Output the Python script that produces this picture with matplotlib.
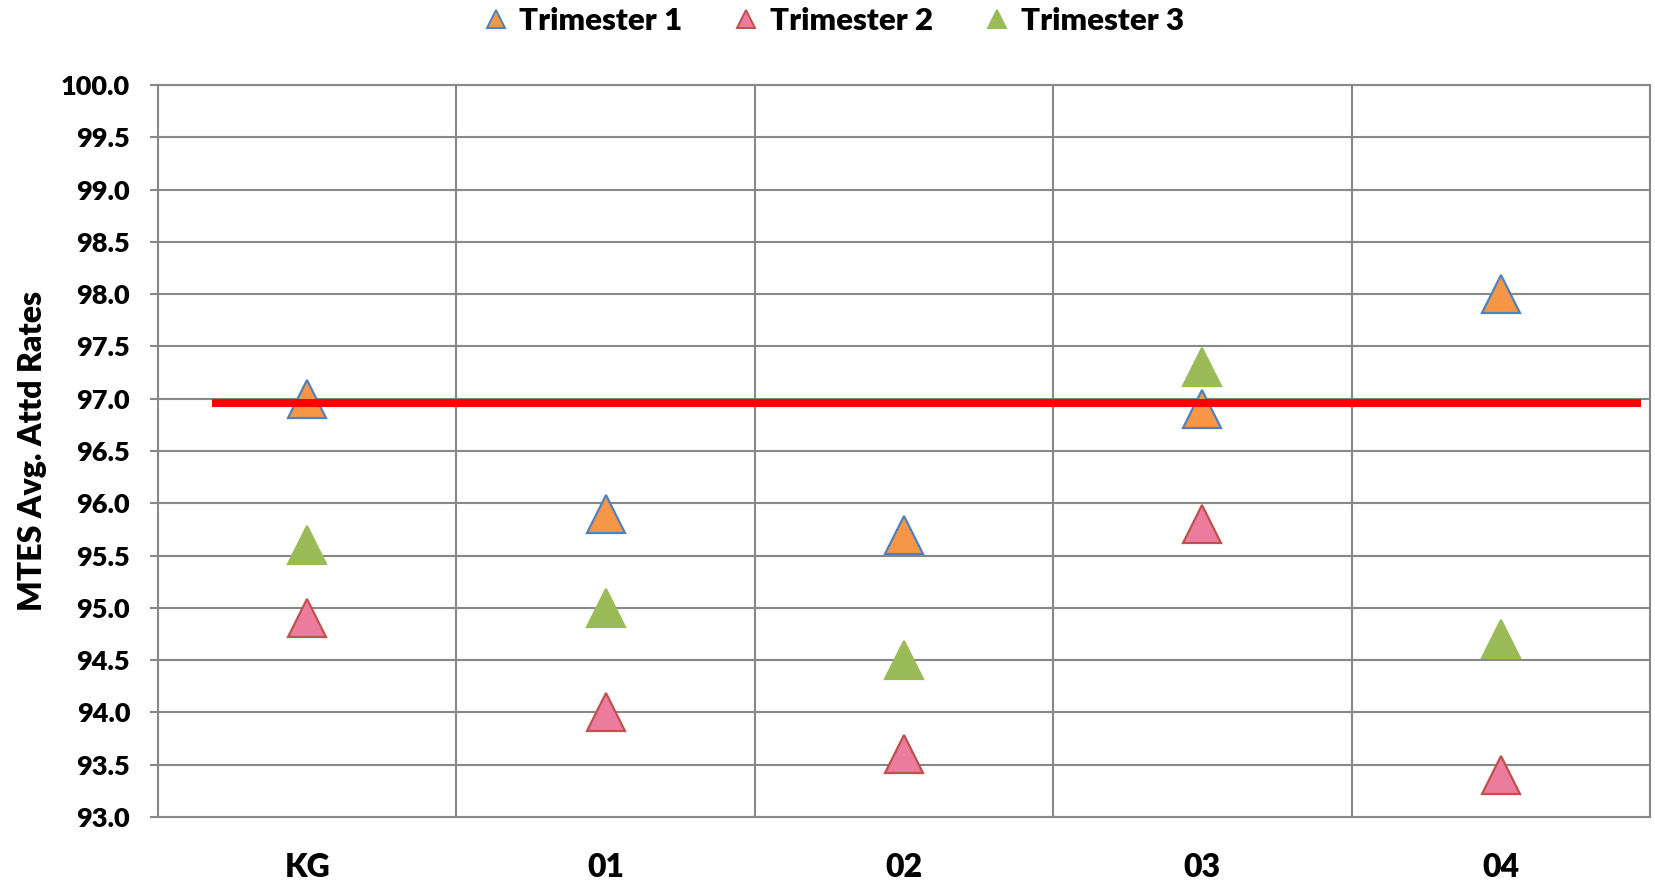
import matplotlib
matplotlib.use("Agg")
import matplotlib.pyplot as plt
from matplotlib.ticker import FixedLocator, FormatStrFormatter

# ===== DATA =====
grades = ["KG", "01", "02", "03", "04"]
trimester_1 = [97.0, 95.9, 95.7, 96.9, 98.0]
trimester_2 = [94.9, 94.0, 93.6, 95.8, 93.4]
trimester_3 = [95.6, 95.0, 94.5, 97.3, 94.7]
goal_rate = 96.96

series = [
    ("Trimester 1", trimester_1, "#F79646", "#4F81BD"),
    ("Trimester 2", trimester_2, "#EC7C9D", "#C0504D"),
    ("Trimester 3", trimester_3, "#9BBB59", "#9BBB59"),
]

W = "heavy"
plt.rcParams["font.family"] = ["Lato", "DejaVu Sans"]
plt.rcParams["font.weight"] = W

fig = plt.figure(figsize=(16.56, 8.83), dpi=100)
ax = fig.add_axes([0.0954, 0.0747, 0.901, 0.829])

x = list(range(len(grades)))

# ===== MARKERS =====
handles = []
for name, vals, fill, edge in series:
    ax.plot(x, vals, linestyle="none", marker="^", markersize=28,
            markerfacecolor=fill, markeredgecolor=edge, markeredgewidth=1.6,
            zorder=3)
    h, = ax.plot([], [], linestyle="none", marker="^", markersize=13,
                 markerfacecolor=fill, markeredgecolor=edge,
                 markeredgewidth=1.4, label=name)
    handles.append(h)

# goal line
ax.plot([-0.32, 4.47], [goal_rate, goal_rate], color="#FF0000",
        linewidth=5.8, solid_capstyle="butt", zorder=4)

# ===== AXES =====
ax.set_xlim(-0.5, 4.5)
ax.set_ylim(93.0, 100.0)
ax.set_xticks(x)
ax.set_xticklabels(grades, fontsize=23, fontweight=W)
ax.xaxis.set_minor_locator(FixedLocator([0.5, 1.5, 2.5, 3.5]))
ax.tick_params(axis="x", which="both", length=0, pad=26)
ax.set_yticks([93.0 + 0.5 * i for i in range(15)])
ax.yaxis.set_major_formatter(FormatStrFormatter("%.1f"))
ax.tick_params(axis="y", length=6, width=1.5, color="#888888",
               labelsize=19.5, pad=14)
for lbl in ax.get_yticklabels():
    lbl.set_fontweight(W)

ax.grid(axis="y", which="major", color="#888888", linewidth=1.5)
ax.grid(axis="x", which="minor", color="#888888", linewidth=1.5)
ax.set_axisbelow(True)
for s in ax.spines.values():
    s.set_color("#888888")
    s.set_linewidth(1.5)

ax.set_ylabel("MTES Avg. Attd Rates", fontsize=23, fontweight=W,
              labelpad=10)

fig.legend(handles=handles, loc="center", bbox_to_anchor=(0.5, 1 - 21 / 883),
           ncol=3, frameon=False, handletextpad=0.0, handlelength=1.5,
           columnspacing=1.3, prop={"weight": W, "size": 22.5})

fig.savefig("out.png", dpi=100)
